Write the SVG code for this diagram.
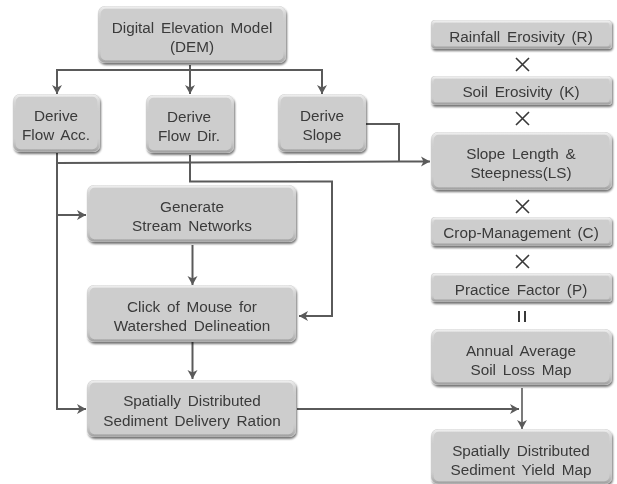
<svg xmlns="http://www.w3.org/2000/svg" width="617" height="484" viewBox="0 0 617 484">
<style>
.b{fill:#cdcdcd;filter:url(#sh)}
.h{fill:none;stroke:url(#bev);stroke-width:2.5;filter:url(#sm)}
text{font-family:"Liberation Sans",Arial,sans-serif;font-size:15.300px;fill:#3a3a3a;text-anchor:middle;word-spacing:2.500px;filter:url(#st)}
.c{fill:none;stroke:#5a5a5a;stroke-width:2}
.a{marker-end:url(#ar)}
.x{fill:none;stroke:#383838;stroke-width:1.6}
</style>
<defs>
<linearGradient id="bev" x1="0" y1="0" x2="0" y2="1"><stop offset="0" stop-color="#ececec"/><stop offset="0.12" stop-color="#dcdcdc" stop-opacity="0.6"/><stop offset="0.3" stop-color="#cdcdcd" stop-opacity="0"/><stop offset="0.75" stop-color="#cdcdcd" stop-opacity="0"/><stop offset="1" stop-color="#a4a4a4"/></linearGradient>
<filter id="sh" x="-10%" y="-15%" width="120%" height="130%"><feGaussianBlur in="SourceAlpha" stdDeviation="1.3"/><feOffset dx="1.200" dy="1.500"/><feComponentTransfer><feFuncA type="linear" slope="0.55"/></feComponentTransfer><feMerge><feMergeNode/><feMergeNode in="SourceGraphic"/></feMerge></filter>
<filter id="sm"><feGaussianBlur stdDeviation="0.7"/></filter>
<filter id="st" x="-5%" y="-20%" width="110%" height="140%"><feGaussianBlur stdDeviation="0.4"/></filter>
<marker id="ar" markerUnits="userSpaceOnUse" markerWidth="14" markerHeight="14" refX="10" refY="6" orient="auto"><path d="M1 1L10 6L1 11L3.500 6Z" fill="#5a5a5a"/></marker>
</defs>
<rect width="617" height="484" fill="#fff"/>
<g id="connectors">
<path class="c" d="M57 93V70H322V93M190 65V93"/>
<path class="c a" d="M57 70V94"/>
<path class="c a" d="M190 70V94"/>
<path class="c a" d="M322 70V94"/>
<path class="c" d="M57 153V410"/>
<path class="c a" d="M57 215H86"/>
<path class="c a" d="M57 409H86"/>
<path class="c a" d="M57 163L400 161.500H430"/>
<path class="c" d="M366 124H399V161"/>
<path class="c a" d="M190 155V181.500H332V316H299"/>
<path class="c a" d="M192.500 245V285"/>
<path class="c a" d="M192.500 342V379"/>
<path class="c a" d="M297 409H519"/>
<path class="c a" d="M522 388V429" style="stroke-width:1.600"/>
</g>
<g id="dem"><rect class="b" x="98" y="6" width="188" height="57" rx="7"/><rect class="h" x="99.500" y="7.500" width="185" height="54" rx="6"/><text x="192" y="33">Digital Elevation Model</text><text x="192" y="52">(DEM)</text></g>
<g id="flow-acc"><rect class="b" x="13" y="94" width="87" height="58" rx="7"/><rect class="h" x="14.500" y="95.500" width="84" height="55" rx="6"/><text x="56" y="121">Derive</text><text x="56" y="140">Flow Acc.</text></g>
<g id="flow-dir"><rect class="b" x="146" y="95" width="88" height="58" rx="7"/><rect class="h" x="147.500" y="96.500" width="85" height="55" rx="6"/><text x="189" y="122">Derive</text><text x="189" y="141">Flow Dir.</text></g>
<g id="slope"><rect class="b" x="278" y="94" width="88" height="58" rx="7"/><rect class="h" x="279.500" y="95.500" width="85" height="55" rx="6"/><text x="322" y="121">Derive</text><text x="322" y="140">Slope</text></g>
<g id="stream"><rect class="b" x="87" y="185" width="209" height="57" rx="7"/><rect class="h" x="88.500" y="186.500" width="206" height="54" rx="6"/><text x="192" y="212">Generate</text><text x="192" y="231">Stream Networks</text></g>
<g id="mouse"><rect class="b" x="87" y="285" width="209" height="57" rx="7"/><rect class="h" x="88.500" y="286.500" width="206" height="54" rx="6"/><text x="192" y="312">Click of Mouse for</text><text x="192" y="331">Watershed Delineation</text></g>
<g id="sdr"><rect class="b" x="87" y="380" width="209" height="57" rx="7"/><rect class="h" x="88.500" y="381.500" width="206" height="54" rx="6"/><text x="192" y="406">Spatially Distributed</text><text x="192" y="426">Sediment Delivery Ration</text></g>
<g id="rainfall"><rect class="b" x="431" y="20" width="181" height="29" rx="4"/><rect class="h" x="432.500" y="21.500" width="178" height="26" rx="3"/><text x="521" y="42">Rainfall Erosivity (R)</text></g>
<g id="soil"><rect class="b" x="431" y="76" width="181" height="29" rx="4"/><rect class="h" x="432.500" y="77.500" width="178" height="26" rx="3"/><text x="521" y="97">Soil Erosivity (K)</text></g>
<g id="ls"><rect class="b" x="431" y="132" width="181" height="58" rx="7"/><rect class="h" x="432.500" y="133.500" width="178" height="55" rx="6"/><text x="521" y="159">Slope Length &amp;</text><text x="521" y="178">Steepness(LS)</text></g>
<g id="crop"><rect class="b" x="431" y="217" width="181" height="29" rx="4"/><rect class="h" x="432.500" y="218.500" width="178" height="26" rx="3"/><text x="521" y="238">Crop-Management (C)</text></g>
<g id="practice"><rect class="b" x="431" y="273" width="181" height="29" rx="4"/><rect class="h" x="432.500" y="274.500" width="178" height="26" rx="3"/><text x="521" y="295">Practice Factor (P)</text></g>
<g id="annual"><rect class="b" x="431" y="329" width="181" height="56" rx="7"/><rect class="h" x="432.500" y="330.500" width="178" height="53" rx="6"/><text x="521" y="356">Annual Average</text><text x="521" y="375">Soil Loss Map</text></g>
<g id="yield"><rect class="b" x="431" y="429" width="181" height="55" rx="7"/><rect class="h" x="432.500" y="430.500" width="178" height="52" rx="6"/><text x="521" y="456">Spatially Distributed</text><text x="521" y="475">Sediment Yield Map</text></g>
<g id="operators">
<path class="x" d="M516 58L529 71M529 58L516 71"/>
<path class="x" d="M516 112L529 125M529 112L516 125"/>
<path class="x" d="M516 200L529 213M529 200L516 213"/>
<path class="x" d="M516 255L529 268M529 255L516 268"/>
<path class="x" d="M519 311V322M525 311V322" style="stroke-width:2"/>
</g>
</svg>
